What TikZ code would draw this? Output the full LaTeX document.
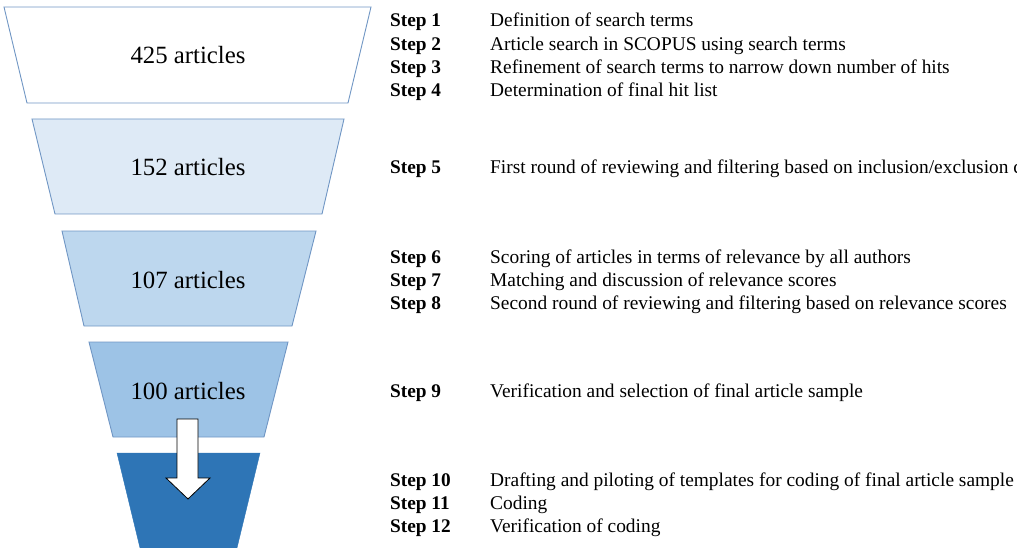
\documentclass[tikz,border=0pt]{standalone}
\usepackage{fontspec}
\setmainfont{Liberation Serif}
\definecolor{edgeblue}{HTML}{7096C4}
\definecolor{fillA}{HTML}{FFFFFF}
\definecolor{fillB}{HTML}{DEEAF6}
\definecolor{fillC}{HTML}{BDD7EE}
\definecolor{fillD}{HTML}{9DC3E6}
\definecolor{fillE}{HTML}{2E75B6}
\tikzset{
  trap/.style={draw=edgeblue, line width=0.9pt, line join=miter},
  artlabel/.style={anchor=base, inner sep=0pt, font=\fontsize{24.8}{28}\selectfont},
  steplabel/.style={anchor=base west, inner sep=0pt, font=\fontsize{19.3}{22}\selectfont\bfseries},
  steptext/.style={anchor=base west, inner sep=0pt, font=\fontsize{19.4}{22}\selectfont},
  blockarrow/.style={draw=black, fill=white, line width=0.8pt, line join=miter}
}
\begin{document}
\begin{tikzpicture}[x=1pt,y=-1pt]
\useasboundingbox (0,0) rectangle (1017,548);
\clip (0,0) rectangle (1017,548);
% funnel layers
\draw[trap, fill=fillA] (4,7) -- (371,7) -- (348,103) -- (27,103) -- cycle;
\draw[trap, fill=fillB] (32,119) -- (344,119) -- (322,214) -- (55,214) -- cycle;
\draw[trap, fill=fillC] (62,231) -- (316,231) -- (292,326) -- (84,326) -- cycle;
\draw[trap, fill=fillD] (89,342) -- (288,342) -- (264,437) -- (113,437) -- cycle;
\draw[draw=fillE, fill=fillE] (117,453) -- (260,453) -- (236,552) -- (141,552) -- cycle;
% article counts
\node[artlabel] (a1) at (188,64) {425 articles};
\node[artlabel] (a2) at (188,176) {152 articles};
\node[artlabel] (a3) at (188,288) {107 articles};
\node[artlabel] (a4) at (188,399) {100 articles};
% block arrow
\draw[blockarrow] (177,419) -- (198,419) -- (198,478) -- (210,478) -- (188,499) -- (166,478) -- (177,478) -- cycle;
% steps
\foreach \n/\y/\t in {
  1/27/{Definition of search terms},
  2/51/{Article search in SCOPUS using search terms},
  3/74/{Refinement of search terms to narrow down number of hits},
  4/97/{Determination of final hit list},
  5/174/{First round of reviewing and filtering based on inclusion/exclusion criteria},
  6/263/{Scoring of articles in terms of relevance by all authors},
  7/286/{Matching and discussion of relevance scores},
  8/309/{Second round of reviewing and filtering based on relevance scores},
  9/397/{Verification and selection of final article sample},
  10/486/{Drafting and piloting of templates for coding of final article sample},
  11/509/{Coding},
  12/532/{Verification of coding}}{
  \node[steplabel] (s\n) at (390,\y) {Step \n};
  \node[steptext] (t\n) at (490,\y) {\t};
}
\end{tikzpicture}
\end{document}
